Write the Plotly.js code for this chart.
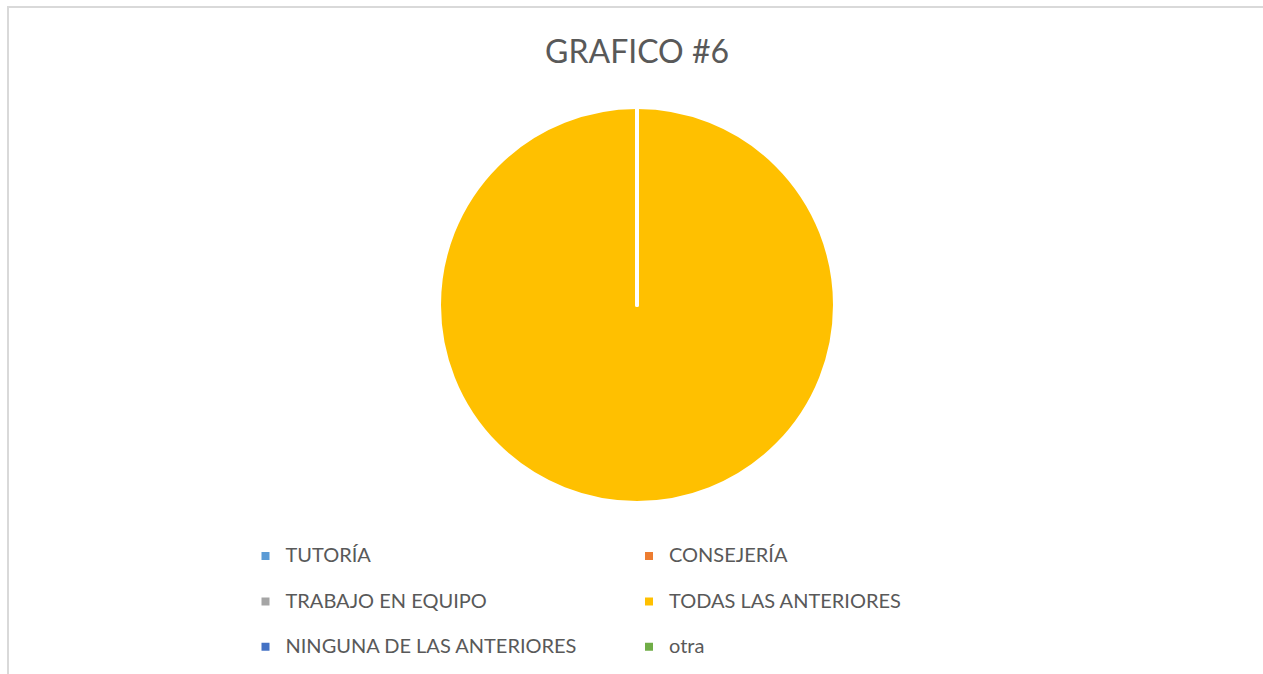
<!DOCTYPE html>
<html>
<head>
<meta charset="utf-8">
<script src="https://cdn.plot.ly/plotly-3.0.1.min.js"></script>
<style>
  html, body { margin: 0; padding: 0; background: #ffffff; }
  #wrap { position: relative; width: 1263px; height: 674px; overflow: hidden; }
  #chart { position: absolute; left: 0; top: 0; width: 1263px; height: 674px; }
  #frame { position: absolute; left: 7px; top: 6px; right: -10px; bottom: -10px;
           border-left: 2px solid #d9d9d9; border-top: 2px solid #d9d9d9; pointer-events: none; }
</style>
</head>
<body>
<div id="wrap">
  <div id="chart"></div>
  <div id="frame"></div>
</div>
<script>
// Data
const categories = ["TUTORÍA", "CONSEJERÍA", "TRABAJO EN EQUIPO", "TODAS LAS ANTERIORES", "NINGUNA DE LAS ANTERIORES", "otra"];
const values = [0, 0, 0, 100, 0, 0];
const colors = ["#5B9BD5", "#ED7D31", "#A5A5A5", "#FFC000", "#4472C4", "#70AD47"];
const chartTitle = "GRAFICO #6";

const labelText = categories.map(c => '<span style="font-size:20px">' + c + '</span><br>');

const trace = {
  type: 'pie',
  labels: labelText,
  values: values,
  sort: false,
  direction: 'clockwise',
  rotation: 0,
  textinfo: 'none',
  hoverinfo: 'label+value+percent',
  marker: { colors: colors, line: { color: '#ffffff', width: 4 } },
  showlegend: true
};

const layout = {
  width: 1263,
  height: 674,
  paper_bgcolor: '#ffffff',
  plot_bgcolor: '#ffffff',
  margin: { l: 187, r: 176, t: 107, b: 171, autoexpand: false },
  title: {
    text: chartTitle,
    x: 0.5044, xanchor: 'center', xref: 'container',
    y: 0.9228, yanchor: 'middle', yref: 'container',
    font: { family: 'Lato, "Open Sans", sans-serif', size: 32, color: '#595959' }
  },
  showlegend: true,
  legend: {
    orientation: 'h',
    x: 0.065, xanchor: 'left',
    y: -0.0909, yanchor: 'top',
    entrywidth: 338.5,
    entrywidthmode: 'pixels',
    valign: 'top',
    traceorder: 'normal',
    bgcolor: 'rgba(0,0,0,0)',
    borderwidth: 0,
    font: { family: 'Lato, "Open Sans", sans-serif', size: 16.3, color: '#595959' }
  }
};

Plotly.newPlot('chart', [trace], layout, { displayModeBar: false, staticPlot: true });
</script>
</body>
</html>
